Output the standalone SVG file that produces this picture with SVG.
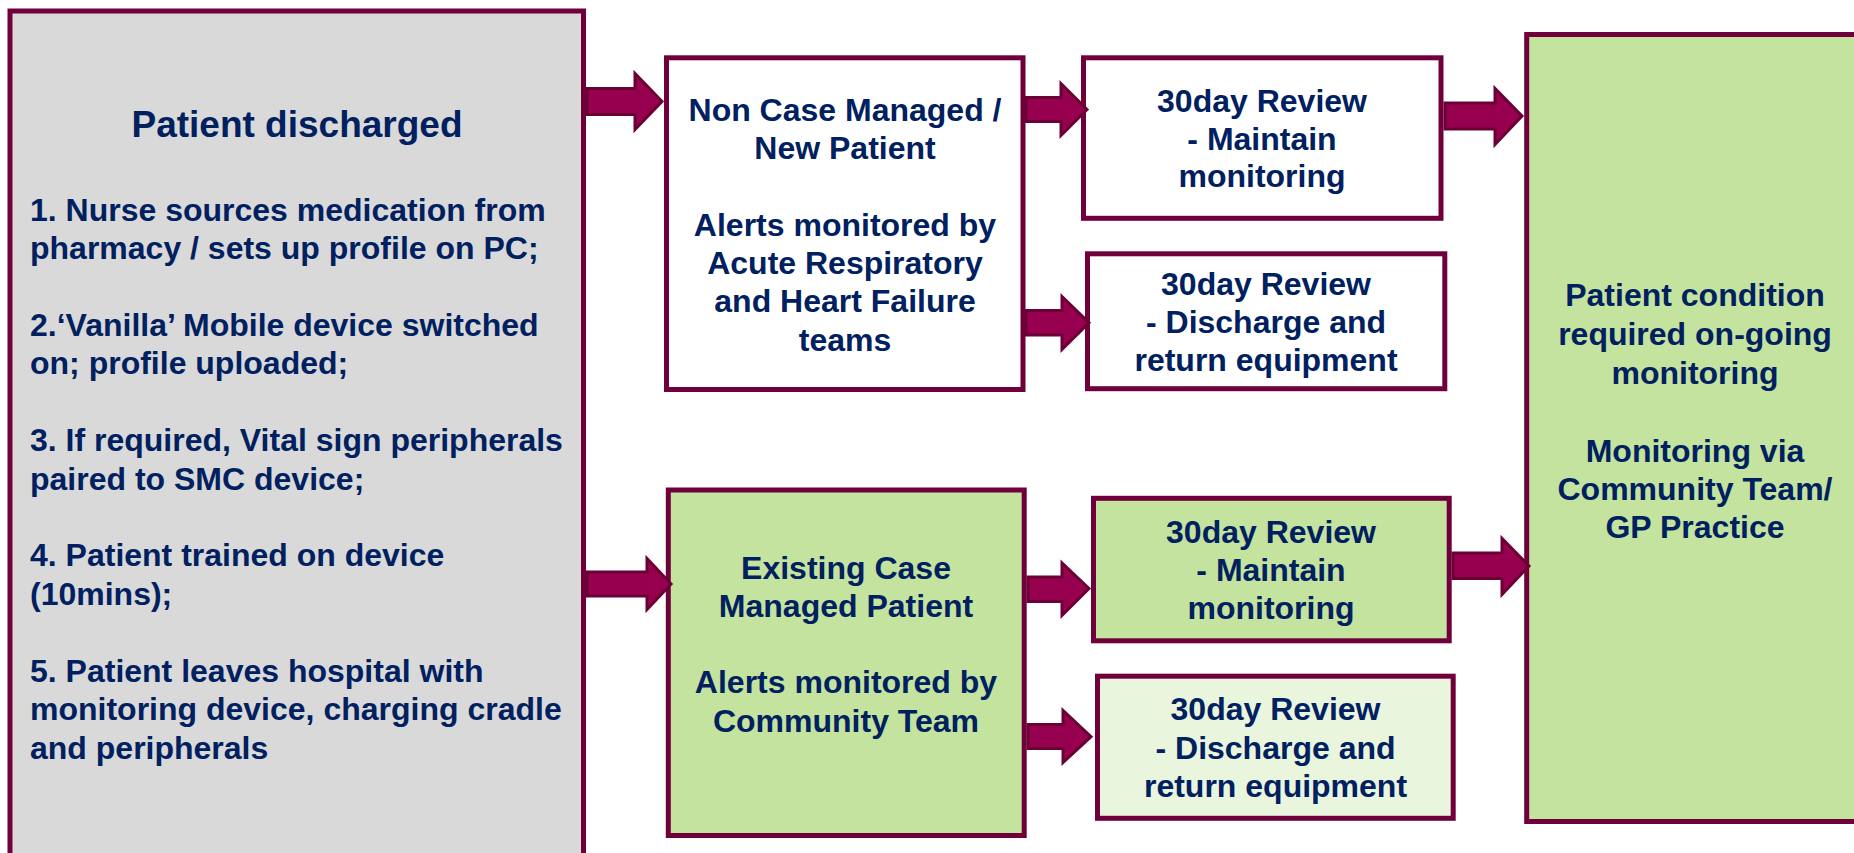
<svg xmlns="http://www.w3.org/2000/svg" width="1854" height="853" viewBox="0 0 1854 853">
<style>
.box{stroke:#70003C;stroke-width:5}
.grey{fill:#D9D9D9}
.white{fill:#FFFFFF}
.green{fill:#C4E39E}
.light{fill:#EAF5DE}
text{font-family:"Liberation Sans",Arial,sans-serif;font-weight:bold;fill:#002060}
.t{font-size:32px}
.c{text-anchor:middle}
.h{font-size:37px;text-anchor:middle}
.arrow{fill:#97004F;stroke:#6B0034;stroke-width:3;stroke-linejoin:miter}
</style>
<rect x="0" y="0" width="1854" height="853" fill="#FFFFFF"/>

<g id="node-discharged">
<rect class="box grey" x="10" y="11" width="573.5" height="870"/>
<text class="h" x="297" y="137">Patient discharged</text>
<text class="t" x="30" y="221">1. Nurse sources medication from</text>
<text class="t" x="30" y="259">pharmacy / sets up profile on PC;</text>
<text class="t" x="30" y="336">2.‘Vanilla’ Mobile device switched</text>
<text class="t" x="30" y="374">on; profile uploaded;</text>
<text class="t" x="30" y="451">3. If required, Vital sign peripherals</text>
<text class="t" x="30" y="489.5">paired to SMC device;</text>
<text class="t" x="30" y="566">4. Patient trained on device</text>
<text class="t" x="30" y="605">(10mins);</text>
<text class="t" x="30" y="681.5">5. Patient leaves hospital with</text>
<text class="t" x="30" y="720">monitoring device, charging cradle</text>
<text class="t" x="30" y="758.5">and peripherals</text>
</g>

<g id="node-noncase">
<rect class="box white" x="666.5" y="57.8" width="356.5" height="331.7"/>
<text class="t c" x="845" y="121">Non Case Managed /</text>
<text class="t c" x="845" y="159">New Patient</text>
<text class="t c" x="845" y="235.5">Alerts monitored by</text>
<text class="t c" x="845" y="273.5">Acute Respiratory</text>
<text class="t c" x="845" y="312">and Heart Failure</text>
<text class="t c" x="845" y="350.5">teams</text>
</g>

<g id="node-review-maintain-1">
<rect class="box white" x="1083.5" y="57.8" width="357.5" height="160.5"/>
<text class="t c" x="1262" y="111.5">30day Review</text>
<text class="t c" x="1262" y="149.5">- Maintain</text>
<text class="t c" x="1262" y="187">monitoring</text>
</g>

<g id="node-review-discharge-1">
<rect class="box white" x="1087.5" y="253.8" width="357.3" height="134.9"/>
<text class="t c" x="1266" y="295">30day Review</text>
<text class="t c" x="1266" y="333">- Discharge and</text>
<text class="t c" x="1266" y="371">return equipment</text>
</g>

<g id="node-existing">
<rect class="box green" x="668.3" y="490" width="355.9" height="345.5"/>
<text class="t c" x="846" y="578.5">Existing Case</text>
<text class="t c" x="846" y="617">Managed Patient</text>
<text class="t c" x="846" y="693">Alerts monitored by</text>
<text class="t c" x="846" y="731.5">Community Team</text>
</g>

<g id="node-review-maintain-2">
<rect class="box green" x="1093.5" y="498.3" width="355.7" height="142.5"/>
<text class="t c" x="1271" y="542.5">30day Review</text>
<text class="t c" x="1271" y="581">- Maintain</text>
<text class="t c" x="1271" y="619">monitoring</text>
</g>

<g id="node-review-discharge-2">
<rect class="box light" x="1097.5" y="676.2" width="355.7" height="142.1"/>
<text class="t c" x="1275.5" y="720">30day Review</text>
<text class="t c" x="1275.5" y="758.5">- Discharge and</text>
<text class="t c" x="1275.5" y="797">return equipment</text>
</g>

<g id="node-ongoing">
<rect class="box green" x="1526.7" y="34.5" width="360" height="787"/>
<text class="t c" x="1695" y="306">Patient condition</text>
<text class="t c" x="1695" y="345">required on-going</text>
<text class="t c" x="1695" y="383.5">monitoring</text>
<text class="t c" x="1695" y="461.5">Monitoring via</text>
<text class="t c" x="1695" y="499.5">Community Team/</text>
<text class="t c" x="1695" y="537.5">GP Practice</text>
</g>

<g id="connectors">
<path class="arrow" d="M587,88.5 L635,88.5 L635,73.5 L662,101.5 L635,129.5 L635,114.5 L587,114.5 Z"/>
<path class="arrow" d="M1026,97.5 L1061,97.5 L1061,83.5 L1087,109.5 L1061,135.5 L1061,121.5 L1026,121.5 Z"/>
<path class="arrow" d="M1026,310.5 L1062,310.5 L1062,296.5 L1089,322.7 L1062,349.5 L1062,335 L1026,335 Z"/>
<path class="arrow" d="M1445,103 L1495,103 L1495,88.5 L1522,116 L1495,144.5 L1495,129 L1445,129 Z"/>
<path class="arrow" d="M587,572 L647,572 L647,558.5 L671,584 L647,609.5 L647,596 L587,596 Z"/>
<path class="arrow" d="M1028,577 L1062,577 L1062,563 L1089,588.5 L1062,615.5 L1062,601.5 L1028,601.5 Z"/>
<path class="arrow" d="M1028,724.5 L1063,724.5 L1063,710.5 L1091,736.7 L1063,762.5 L1063,748.5 L1028,748.5 Z"/>
<path class="arrow" d="M1453,553 L1502,553 L1502,538.5 L1529,566 L1502,594.5 L1502,578.5 L1453,578.5 Z"/>
</g>
</svg>
